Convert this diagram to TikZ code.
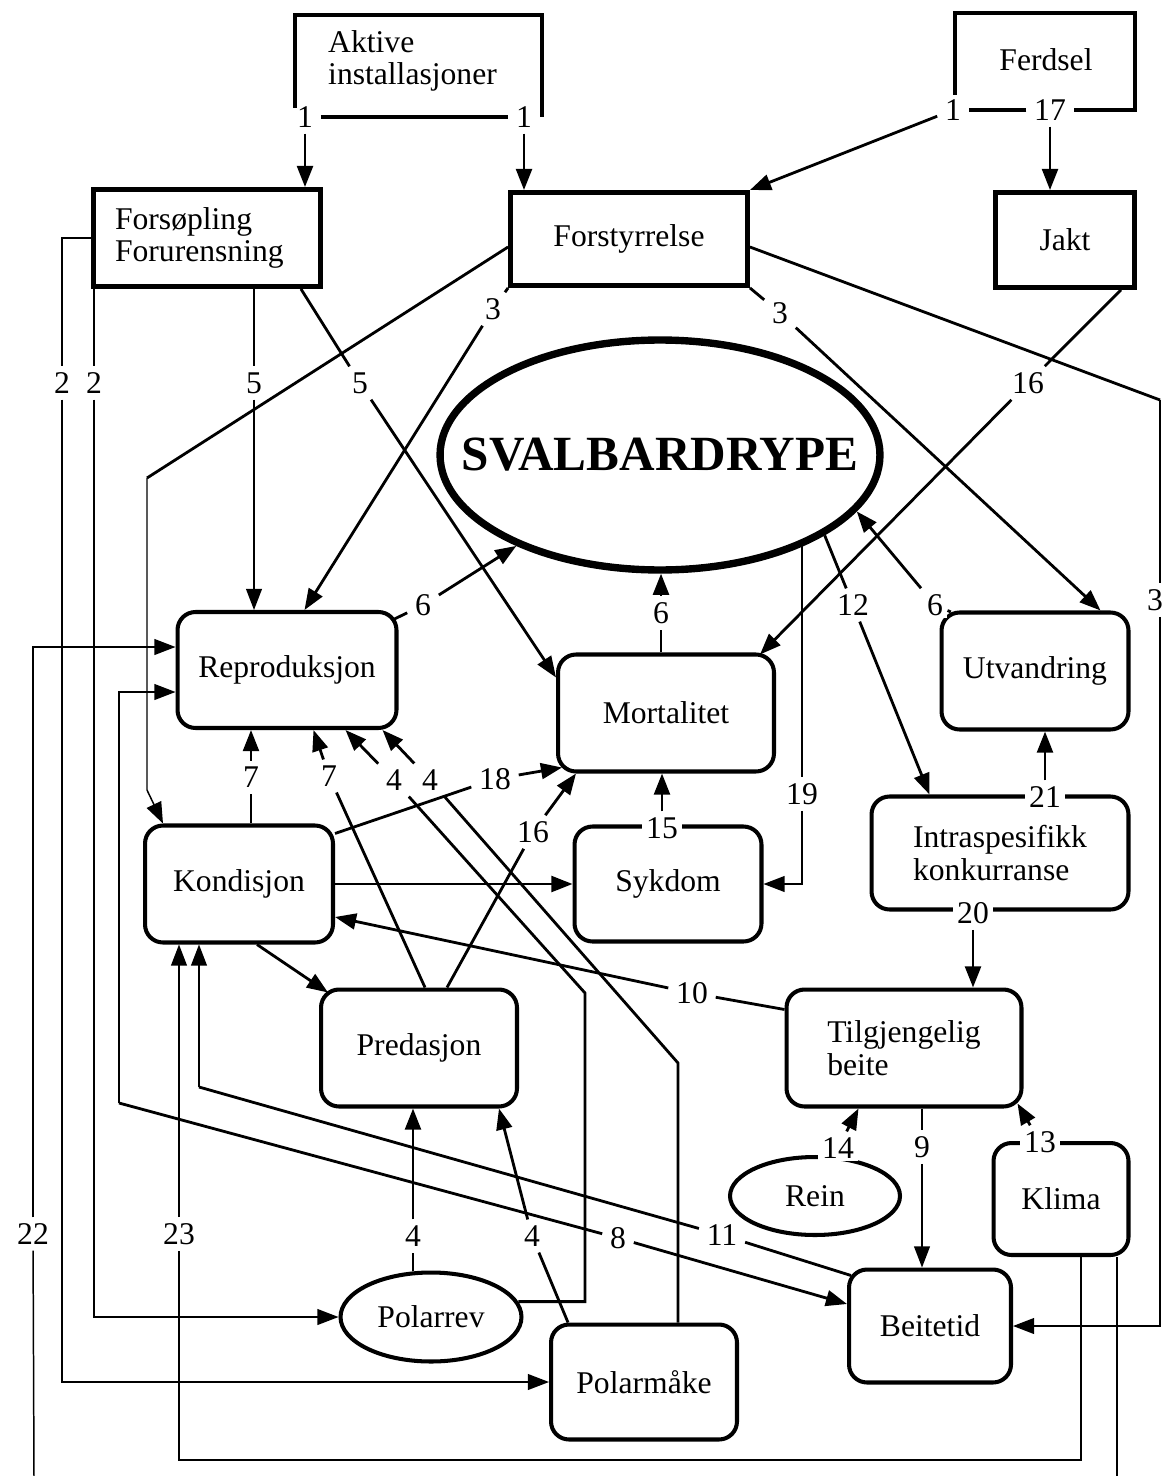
\documentclass[tikz,border=0pt]{standalone}
\usepackage{fontspec}
\setmainfont{Liberation Serif}
\usetikzlibrary{arrows.meta,shapes.geometric,calc}

\begin{document}
\begin{tikzpicture}[x=0.02cm, y=-0.02cm,
  txt/.style={font=\fontsize{18}{18.5}\selectfont, align=center},
  sqbox/.style={txt, draw, line width=2.8pt, inner sep=0pt},
  rbox/.style={txt, draw, line width=2.3pt, rounded corners=0.36cm, inner sep=0pt},
  oval/.style={txt, draw, ellipse, line width=2.3pt, inner sep=0pt},
  num/.style={font=\fontsize{18}{18}\selectfont, fill=white, inner xsep=2.5pt, inner ysep=1.5pt, outer sep=2pt},
  conn/.style={line width=1.6pt},
  thinline/.style={line width=0.85pt},
  frame/.style={line width=2.8pt},
  arr/.style={-{Triangle[length=12pt,width=9pt]}}]
\useasboundingbox (0,0) rectangle (1165,1476);

% Source boxes
\node[txt, align=left, anchor=west] (aktive) at (322,61) {Aktive\\installasjoner};
\node[txt] (ferdsel) at (1046,60) {Ferdsel};
\node[sqbox, minimum width=4.54cm, minimum height=1.94cm, align=left, text width=3.68cm] (forsop) at (207,238) {Forsøpling\\Forurensning};
\node[sqbox, minimum width=4.74cm, minimum height=1.86cm] (forstyr) at (629,239) {Forstyrrelse};
\node[sqbox, minimum width=2.78cm, minimum height=1.9cm] (jakt) at (1065,240) {Jakt};

% Centre
\node[draw, ellipse, line width=4.2pt, minimum width=8.8cm, minimum height=4.6cm, inner sep=0pt] (svalb) at (660,455) {};
\node[font=\fontsize{28}{28}\selectfont\bfseries] (svtext) at (svalb.center) {SVALBARDRYPE};

% Factors
\node[rbox, minimum width=4.38cm, minimum height=2.32cm] (repro) at (287,670) {Reproduksjon};
\node[rbox, minimum width=4.32cm, minimum height=2.34cm] (mort) at (666,713) {Mortalitet};
\node[rbox, minimum width=3.74cm, minimum height=2.34cm] (utv) at (1035,671) {Utvandring};
\node[rbox, minimum width=3.76cm, minimum height=2.34cm] (kond) at (239,884) {Kondisjon};
\node[rbox, minimum width=3.74cm, minimum height=2.3cm] (syk) at (668,884) {Sykdom};
\node[rbox, minimum width=5.14cm, minimum height=2.26cm, align=left] (intra) at (1000,853) {Intraspesifikk\\konkurranse};
\node[rbox, minimum width=4.7cm, minimum height=2.34cm, align=left] (tilg) at (904,1048) {Tilgjengelig\\beite};
\node[rbox, minimum width=3.92cm, minimum height=2.34cm] (pred) at (419,1048) {Predasjon};
\node[oval, minimum width=3.4cm, minimum height=1.56cm] (rein) at (815,1196) {Rein};
\node[rbox, minimum width=2.7cm, minimum height=2.24cm] (klima) at (1061,1199) {Klima};
\node[rbox, minimum width=3.24cm, minimum height=2.26cm] (beite) at (930,1326) {Beitetid};
\node[oval, minimum width=3.62cm, minimum height=1.78cm] (polarrev) at (431,1317) {Polarrev};
\node[rbox, minimum width=3.72cm, minimum height=2.3cm] (polarm) at (644,1382) {Polarmåke};

% Numbers
\node[num] (a1l) at (305,117) {1};
\node[num] (a1r) at (524,117) {1};
\node[num] (f1) at (953,110) {1};
\node[num] (f17) at (1050,110) {17};
\node[num] (l2a) at (62,383) {2};
\node[num] (l2b) at (94,383) {2};
\node[num] (l5a) at (254,383) {5};
\node[num] (l5b) at (360,383) {5};
\node[num] (l3a) at (493,309) {3};
\node[num] (l3b) at (780,313) {3};
\node[num] (l3c) at (1155,600) {3};
\node[num] (l16a) at (1028,383) {16};
\node[num] (l6a) at (423,605) {6};
\node[num] (l6b) at (661,613) {6};
\node[num] (l6c) at (935,605) {6};
\node[num] (l12) at (853,605) {12};
\node[num] (l19) at (802,794) {19};
\node[num] (l7a) at (251,777) {7};
\node[num] (l7b) at (329,776) {7};
\node[num] (l4a) at (394,780) {4};
\node[num] (l4b) at (430,780) {4};
\node[num] (l18) at (495,779) {18};
\node[num] (l16b) at (533,832) {16};
\node[num] (l15) at (662,828) {15};
\node[num] (l21) at (1045,797) {21};
\node[num] (l20) at (973,913) {20};
\node[num] (l10) at (692,993) {10};
\node[num] (l14) at (838,1148) {14};
\node[num] (l9) at (922,1147) {9};
\node[num] (l13) at (1040,1142) {13};
\node[num] (l22) at (33,1234) {22};
\node[num] (l23) at (179,1234) {23};
\node[num] (l4c) at (413,1236) {4};
\node[num] (l4d) at (532,1236) {4};
\node[num] (l8) at (618,1238) {8};
\node[num] (l11) at (722,1235) {11};

% Bends
\coordinate (c22) at (34,1476);
\coordinate (c22r) at (1117,1476);
\coordinate (c23) at (1081,1460);
\coordinate (c8) at (119,1103);
\coordinate (c11) at (199,1087);
\coordinate (c4a) at (585,993);
\coordinate (c4b) at (678,1063);
\coordinate (c3) at (1160,400);
\coordinate (c3b) at (1160,1326);
\coordinate (cfk) at (147,478);
\coordinate (cfk2) at (147,790);

% Open frames
\draw[frame] (295,108) |- (542,15) -- (542,117);
\draw[frame] (a1l) -- (a1r);
\draw[frame] (955,95) |- (1135,13) |- (f17);
\draw[frame] (f17) -- (f1);

% From the sources
\draw[conn,arr] (a1l) -- (a1l |- forsop.north);
\draw[conn,arr] (a1r) -- (a1r |- forstyr.north);
\draw[conn,arr] (f1) -- (forstyr.north east);
\draw[conn,arr] (f17) -- (f17 |- jakt.north);

% Forsopling
\draw[thinline] (forsop.west) -| (l2a);
\draw[thinline,arr] (l2a) |- (polarm.west);
\draw[thinline] (forsop.south west -| l2b) -- (l2b);
\draw[thinline,arr] (l2b) |- (polarrev.west);
\draw[thinline] (l5a |- forsop.south) -- (l5a);
\draw[thinline,arr] (l5a) -- (l5a |- repro.north);
\draw[conn] ($(forsop.south east)+(-22,0)$) -- (l5b);
\draw[conn,arr] (l5b) -- ($(mort.north west)+(0,25)$);

% Forstyrrelse
\draw[conn] ($(forstyr.west)+(0,8)$) -- (cfk);
\draw[thinline,arr] (cfk) -- (cfk2) -- ($(kond.north west)+(20,0)$);
\draw[conn] (forstyr.south west) -- (l3a);
\draw[conn,arr] (l3a) -- ($(repro.north west)+(129,0)$);
\draw[conn] (forstyr.south east) -- (l3b);
\draw[conn,arr] (l3b) -- ($(utv.north east)+(-30,0)$);
\draw[conn] ($(forstyr.east)+(0,8)$) -- (c3);
\draw[thinline] (c3) -- (c3 |- l3c.north);
\draw[thinline,arr] (c3 |- l3c.south) -- (c3b) -- (beite.east);

% Jakt
\draw[conn] ($(jakt.south east)+(-16,0)$) -- (l16a);
\draw[conn,arr] (l16a) -- ($(mort.north east)+(-16,2)$);

% Svalbardrype
\draw[conn] ($(repro.north east)+(-6,10)$) -- (l6a);
\draw[conn,arr] (l6a) -- (svalb);
\draw[conn] (l6b |- mort.north) -- (l6b);
\draw[conn,arr] (l6b) -- (svalb.south -| l6b);
\draw[conn] ($(utv.north west)+(8,0)$) -- (l6c);
\draw[conn,arr] (l6c) -- (svalb.-16);
\draw[conn] (svalb.-26) -- (l12);
\draw[conn,arr] (l12) -- ($(intra.north west)+(60,0)$);
\draw[thinline] (svalb.-32 -| l19) -- (l19);
\draw[thinline,arr] (l19) |- (syk.east);

% Mortalitet
\draw[conn,arr] (l15) -- (l15 |- mort.south);
\draw[conn] ($(kond.north east)+(0,10)$) -- (l18);
\draw[conn,arr] (l18) -- ($(mort.south west)+(6,-6)$);
\draw[conn] ($(pred.north)+(28,0)$) -- (l16b);
\draw[conn,arr] (l16b) -- ($(mort.south west)+(20,0)$);

% Reproduksjon
\draw[conn] (l7a |- kond.north) -- (l7a);
\draw[conn,arr] (l7a) -- (l7a |- repro.south);
\draw[conn] ($(pred.north)+(6,0)$) -- (l7b);
\draw[conn,arr] (l7b) -- ($(repro.south west)+(138,0)$);
\draw[conn] (polarrev.10) -| (c4a) -- (l4a);
\draw[conn,arr] (l4a) -- ($(repro.south west)+(170,0)$);
\draw[conn] (polarm.north -| c4b) -- (c4b) -- (l4b);
\draw[conn,arr] (l4b) -- ($(repro.south east)+(-16,0)$);
\draw[thinline] (c22) -- (l22);
\draw[thinline,arr] (l22) |- ($(repro.west)+(0,-23)$);
\draw[thinline] (klima.south -| c22r) -- (c22r);
\draw[conn,arr] (l8) -- ($(beite.west)+(0,-22)$);
\draw[conn] (l8) -- (c8);
\draw[thinline,arr] (c8) |- ($(repro.west)+(0,22)$);

% Kondisjon
\draw[conn] ($(beite.north west)+(4,8)$) -- (l11);
\draw[conn] (l11) -- (c11);
\draw[thinline,arr] (c11) -- (c11 |- kond.south);
\draw[thinline] (klima.south -| c23) -- (c23) -| (l23);
\draw[thinline,arr] (l23) -- (l23 |- kond.south);
\draw[conn,arr] (kond.east) -- (kond.east -| syk.west);
\draw[conn,arr] ($(kond.south)+(18,0)$) -- ($(pred.north west)+(9,5)$);
\draw[conn] ($(tilg.north west)+(0,22)$) -- (l10);
\draw[conn,arr] (l10) -- ($(kond.east)+(0,33)$);

% Utvandring and beite
\draw[conn,arr] (l21) -- (l21 |- utv.south);
\draw[conn,arr] (l20) -- (l20 |- tilg.north);
\draw[conn,arr] (l13) -- ($(tilg.south east)+(-6,-5)$);
\draw[conn,arr] (l14) -- ($(tilg.south west)+(74,0)$);
\draw[thinline] (l9 |- tilg.south) -- (l9);
\draw[thinline,arr] (l9) -- (l9 |- beite.north);

% Predasjon
\draw[conn] (l4c |- polarrev.north) -- (l4c);
\draw[conn,arr] (l4c) -- (l4c |- pred.south);
\draw[conn] ($(polarm.north west)+(19,0)$) -- (l4d);
\draw[conn,arr] (l4d) -- ($(pred.south east)+(-20,0)$);
\end{tikzpicture}
\end{document}
